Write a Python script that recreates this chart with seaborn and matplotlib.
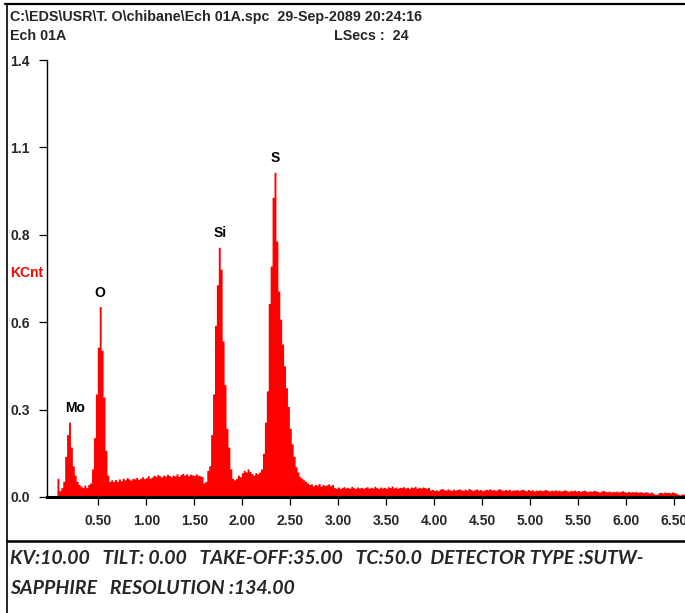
import numpy as np
import pandas as pd
import matplotlib
matplotlib.use("Agg")
import matplotlib.pyplot as plt
from matplotlib.lines import Line2D
import seaborn as sns

# ---- spectrum data (KCnt per 0.02 keV channel, starting at 0.08 keV) ----
channel_start = 0.08
channel_width = 0.02
kcnt = [
    0.060, 0.020, 0.030, 0.050, 0.130, 0.200, 0.240, 0.160, 0.100, 0.070,   # 0.08-0.26
    0.050, 0.040, 0.035, 0.030, 0.038, 0.030, 0.040, 0.045, 0.090, 0.190,   # 0.28-0.46
    0.330, 0.480, 0.610, 0.470, 0.320, 0.150, 0.070, 0.050, 0.055, 0.050,   # 0.48-0.66
    0.056, 0.050, 0.058, 0.052, 0.060, 0.055, 0.062, 0.058, 0.054, 0.060,   # 0.68-0.86
    0.058, 0.063, 0.056, 0.060, 0.065, 0.059, 0.062, 0.068, 0.060, 0.064,   # 0.88-1.06
    0.070, 0.066, 0.072, 0.068, 0.064, 0.070, 0.067, 0.073, 0.069, 0.065,   # 1.08-1.26
    0.070, 0.068, 0.074, 0.066, 0.072, 0.076, 0.070, 0.074, 0.068, 0.073,   # 1.28-1.46
    0.071, 0.069, 0.074, 0.070, 0.068, 0.066, 0.045, 0.050, 0.085, 0.100,   # 1.48-1.66
    0.200, 0.330, 0.550, 0.680, 0.800, 0.730, 0.500, 0.360, 0.220, 0.160,   # 1.68-1.86
    0.090, 0.060, 0.055, 0.060, 0.070, 0.065, 0.078, 0.085, 0.080, 0.090,   # 1.88-2.06
    0.082, 0.075, 0.070, 0.078, 0.074, 0.080, 0.090, 0.140, 0.240, 0.340,   # 2.08-2.26
    0.620, 0.740, 0.960, 1.040, 0.820, 0.660, 0.570, 0.490, 0.420, 0.350,   # 2.28-2.46
    0.290, 0.220, 0.170, 0.130, 0.097, 0.080, 0.065, 0.060, 0.055, 0.050,   # 2.48-2.66
    0.045, 0.040, 0.042, 0.036, 0.040, 0.038, 0.043, 0.035, 0.040, 0.037,   # 2.68-2.86
    0.039, 0.042, 0.036, 0.040, 0.030, 0.028, 0.032, 0.027, 0.030, 0.033,   # 2.88-3.06
    0.029, 0.031, 0.028, 0.034, 0.030, 0.027, 0.032, 0.029, 0.031, 0.028,   # 3.08-3.26
    0.030, 0.033, 0.028, 0.031, 0.029, 0.034, 0.030, 0.027, 0.032, 0.029,   # 3.28-3.46
    0.031, 0.028, 0.033, 0.030, 0.035, 0.029, 0.032, 0.028, 0.031, 0.030,   # 3.48-3.66
    0.033, 0.029, 0.031, 0.027, 0.032, 0.030, 0.034, 0.028, 0.031, 0.029,   # 3.68-3.86
    0.032, 0.030, 0.028, 0.031, 0.022, 0.024, 0.021, 0.023, 0.020, 0.025,   # 3.88-4.06
    0.027, 0.024, 0.022, 0.026, 0.023, 0.021, 0.025, 0.022, 0.024, 0.026,   # 4.08-4.26
    0.023, 0.021, 0.025, 0.022, 0.027, 0.024, 0.021, 0.023, 0.026, 0.022,   # 4.28-4.46
    0.024, 0.020, 0.022, 0.025, 0.023, 0.026, 0.022, 0.024, 0.021, 0.025,   # 4.48-4.66
    0.026, 0.023, 0.021, 0.024, 0.022, 0.025, 0.020, 0.023, 0.022, 0.024,   # 4.68-4.86
    0.021, 0.023, 0.025, 0.022, 0.020, 0.024, 0.021, 0.023, 0.019, 0.022,   # 4.88-5.06
    0.021, 0.023, 0.020, 0.022, 0.024, 0.021, 0.019, 0.022, 0.020, 0.023,   # 5.08-5.26
    0.020, 0.022, 0.019, 0.021, 0.023, 0.020, 0.018, 0.021, 0.020, 0.022,   # 5.28-5.46
    0.019, 0.021, 0.018, 0.020, 0.022, 0.019, 0.017, 0.020, 0.018, 0.021,   # 5.48-5.66
    0.020, 0.018, 0.016, 0.019, 0.021, 0.018, 0.017, 0.019, 0.016, 0.018,   # 5.68-5.86
    0.017, 0.019, 0.016, 0.018, 0.020, 0.017, 0.015, 0.018, 0.016, 0.017,   # 5.88-6.06
    0.016, 0.018, 0.015, 0.017, 0.016, 0.014, 0.017, 0.015, 0.013, 0.016,   # 6.08-6.26
    0.012, 0.008, 0.009, 0.014, 0.015, 0.013, 0.016, 0.014, 0.015, 0.013,   # 6.28-6.46
    0.016, 0.014, 0.012, 0.008, 0.007, 0.010, 0.009, 0.008, 0.010, 0.009,   # 6.48-6.66
]

# ---- peak identification ----
peak_names = ["Mo", "O", "Si", "S"]
peak_energy = [0.19, 0.52, 1.77, 2.34]

# ---- axis ticks ----
x_ticks = [0.5, 1.0, 1.5, 2.0, 2.5, 3.0, 3.5, 4.0, 4.5, 5.0, 5.5, 6.0, 6.5]
x_tick_labels = ["0.50", "1.00", "1.50", "2.00", "2.50", "3.00", "3.50",
                 "4.00", "4.50", "5.00", "5.50", "6.00", "6.50"]
y_ticks = [0.0, 0.28, 0.56, 0.84, 1.12, 1.4]
y_tick_labels = ["0.0", "0.3", "0.6", "0.8", "1.1", "1.4"]

# ---- header / footer text ----
header_line1 = "C:\\EDS\\USR\\T. O\\chibane\\Ech 01A.spc  29-Sep-2089 20:24:16"
header_line2 = "Ech 01A"
live_secs = "LSecs :  24"
y_label = "KCnt"
footer_line1 = "KV:10.00   TILT: 0.00   TAKE-OFF:35.00   TC:50.0  DETECTOR TYPE :SUTW-"
footer_line2 = "SAPPHIRE   RESOLUTION :134.00"

n = len(kcnt)
energy = channel_start + channel_width * np.arange(n)
df = pd.DataFrame({"energy": energy, "kcnt": kcnt})

sns.set_theme(style="white")
plt.rcParams["font.family"] = ["Liberation Sans", "DejaVu Sans"]

W, H = 685, 613
fig = plt.figure(figsize=(W / 100, H / 100), dpi=100)
fig.patch.set_facecolor("white")

def fx(px):
    return px / W

def fy(py):
    return 1 - py / H

ax_left, ax_right, ax_top, ax_bottom = 47, 685, 60, 497
ax = fig.add_axes([fx(ax_left), fy(ax_bottom), fx(ax_right - ax_left), (ax_bottom - ax_top) / H])
ax.set_facecolor("white")

lo = channel_start - channel_width / 2
sns.histplot(data=df, x="energy", weights="kcnt", binwidth=channel_width,
             binrange=(lo, lo + channel_width * n), element="step",
             fill=True, color="#ff0000", alpha=1.0, linewidth=0, ax=ax)

ax.set_xlim(-0.034, 6.61)
ax.set_ylim(0, 1.4)
ax.set_xlabel("")
ax.set_ylabel("")

for side in ["top", "right"]:
    ax.spines[side].set_visible(False)
ax.spines["left"].set_color("black")
ax.spines["left"].set_linewidth(1.0)
ax.spines["bottom"].set_color("black")
ax.spines["bottom"].set_linewidth(2.2)
ax.spines["bottom"].set_zorder(5)

ax.set_xticks(x_ticks)
ax.set_xticklabels(x_tick_labels, fontsize=10, fontweight="bold")
ax.set_yticks(y_ticks)
ax.set_yticklabels(y_tick_labels, fontsize=10, fontweight="bold")
ax.tick_params(axis="x", direction="out", length=5.5, width=0.9, color="black", pad=7)
ax.tick_params(axis="y", direction="out", length=5.5, width=0.9, color="black", pad=21)
for lab in ax.get_yticklabels():
    lab.set_horizontalalignment("left")
ax.tick_params(axis="both", which="both", bottom=True, left=True)

# peak labels above each line
for name, e in zip(peak_names, peak_energy):
    i = int(np.argmin(np.abs(energy - e)))
    h = max(kcnt[max(i - 1, 0):i + 2])
    dx = 7 if name == "Mo" else 0
    ax.annotate(name, xy=(e, h), xytext=(dx, 7), textcoords="offset pixels",
                ha="center", va="bottom", fontsize=10, fontweight="bold", color="black")

# y-axis unit label
fig.text(fx(10), fy(273), y_label, color="#ff0000", fontsize=10, fontweight="bold",
         ha="left", va="center")

# header
fig.text(fx(10), fy(17), header_line1, fontsize=10.3, fontweight="bold", ha="left", va="center")
fig.text(fx(10), fy(36), header_line2, fontsize=10.3, fontweight="bold", ha="left", va="center")
fig.text(fx(334), fy(36), live_secs, fontsize=10.3, fontweight="bold", ha="left", va="center")

# footer
fig.text(fx(10), fy(558), footer_line1, fontsize=14, fontweight="bold", fontstyle="italic",
         family=["Lato", "DejaVu Sans"], ha="left", va="center")
fig.text(fx(10), fy(588), footer_line2, fontsize=14, fontweight="bold", fontstyle="italic",
         family=["Lato", "DejaVu Sans"], ha="left", va="center")

# outer frame lines
fig.add_artist(Line2D([fx(5), fx(685)], [fy(4), fy(4)], color="black", lw=1.6))
fig.add_artist(Line2D([fx(7), fx(7)], [fy(4), fy(613)], color="black", lw=1.2))
fig.add_artist(Line2D([fx(7), fx(685)], [fy(541), fy(541)], color="black", lw=1.8))

fig.savefig("out.png", dpi=100, facecolor="white")
